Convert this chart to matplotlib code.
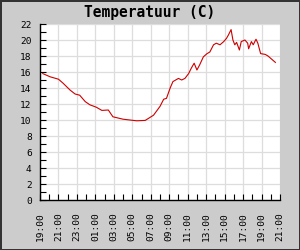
import matplotlib
matplotlib.use("Agg")
import matplotlib.pyplot as plt
from matplotlib.ticker import MultipleLocator, FuncFormatter

# hours since 19:00
hours = [0.3, 1.1, 2.0, 2.5, 3.25, 3.8, 4.3, 4.9, 5.4, 6.1, 6.7, 7.4, 7.9, 9.0,
         10.1, 10.5, 11.4, 12.3, 13.0, 13.4, 13.7, 14.1, 14.4, 15.0, 15.35, 15.7,
         16.1, 16.4, 16.7, 17.0, 17.3, 17.7, 18.1, 18.4, 18.8, 19.1, 19.5, 19.9,
         20.2, 20.4, 20.7, 20.9, 21.1, 21.3, 21.6, 21.8, 22.2, 22.5, 22.6, 22.9,
         23.1, 23.4, 23.6, 23.9, 24.4, 24.7, 25.1, 25.5]
temps = [15.8, 15.4, 15.1, 14.6, 13.75, 13.25, 13.1, 12.3, 11.9, 11.6, 11.2, 11.25,
         10.4, 10.1, 9.95, 9.9, 9.95, 10.6, 11.7, 12.6, 12.7, 14.0, 14.8, 15.2, 15.0,
         15.2, 15.8, 16.5, 17.1, 16.25, 16.9, 17.9, 18.3, 18.5, 19.4, 19.6, 19.4,
         19.8, 20.2, 20.6, 21.3, 20.0, 19.4, 19.7, 18.75, 19.8, 20.0, 19.6, 18.9,
         19.8, 19.4, 20.1, 19.6, 18.3, 18.2, 18.0, 17.6, 17.2]
start_hour = 19
title = "Temperatuur (C)"

mono = "DejaVu Sans Mono"

fig = plt.figure(figsize=(3, 2.5), dpi=100, facecolor="#cccccc",
                 edgecolor="#333333", linewidth=1.0)
ax = fig.add_axes([40 / 300, 50 / 250, 240 / 300, 176 / 250])
ax.set_facecolor("white")
ax.plot(hours, temps, color="#cc0000", linewidth=0.8)

ax.set_xlim(0, 26)
ax.set_ylim(0, 22)
ax.xaxis.set_major_locator(MultipleLocator(2))
ax.xaxis.set_minor_locator(MultipleLocator(1))
ax.yaxis.set_major_locator(MultipleLocator(2))
ax.yaxis.set_minor_locator(MultipleLocator(1))
ax.xaxis.set_major_formatter(FuncFormatter(
    lambda v, p: "{:02d}:00".format(int(round(start_hour + v)) % 24)))
ax.grid(True, which="major", color="#dddddd", linewidth=0.9)
ax.set_axisbelow(True)

for side in ("top", "right"):
    ax.spines[side].set_visible(False)
for side in ("left", "bottom"):
    ax.spines[side].set_color("black")
    ax.spines[side].set_linewidth(1.0)

ax.tick_params(which="both", direction="in", length=4, width=0.8, color="black")
ax.tick_params(axis="y", which="both", left=True, right=False, pad=6)
ax.tick_params(axis="x", which="both", bottom=True, top=False, pad=9)
for lbl in ax.get_xticklabels():
    lbl.set_rotation(90)
for lbl in ax.get_xticklabels() + ax.get_yticklabels():
    lbl.set_fontfamily(mono)
    lbl.set_fontsize(6.8)

fig.text(0.5, 1 - 12.5 / 250, title, ha="center", va="center",
         fontfamily=mono, fontweight="bold", fontsize=10.5)

fig.savefig("out.png", dpi=100, facecolor=fig.get_facecolor(),
            edgecolor=fig.get_edgecolor())
